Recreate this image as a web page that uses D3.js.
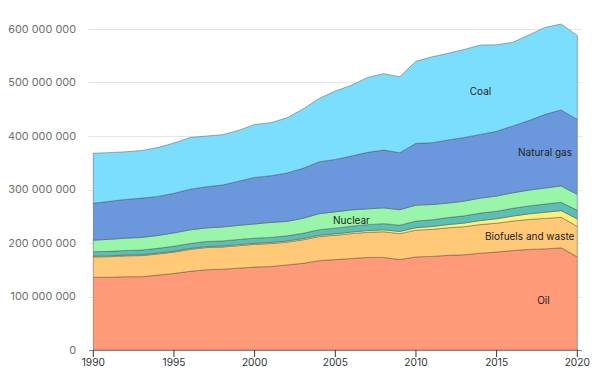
<!DOCTYPE html>
<html>
<head>
<meta charset="utf-8">
<script src="https://cdn.jsdelivr.net/npm/d3@7"></script>
<style>
  html, body { margin: 0; padding: 0; background: #fff; }
  svg { display: block; font-family: Inter, "Noto Sans", sans-serif; }
</style>
</head>
<body>
<svg id="chart" width="600" height="389"></svg>
<script>
const years = d3.range(1990, 2021);
const seriesNames = ["Oil", "Biofuels and waste", "Wind, solar, etc.", "Hydro", "Nuclear", "Natural gas", "Coal"];
const oil      = [136,136,137,137,140,143,147,150,151,153,155,156,159,162,167,169,171,173,173,169,174,175,177,178,181,183,186,188,189,191,174];
const biofuels = [38,38.5,39,39.5,39.5,40,41,41.5,41.5,42,42.5,43,42.5,44,45,45.5,46.5,47,48,48.5,50,50.5,51.5,52.5,53.5,54,55,56,57,57,57];
const windSolar= [1.5,1.5,1.6,1.6,1.7,1.7,1.8,1.8,1.9,2,2,2.1,2.2,2.3,2.5,2.7,2.9,3.2,3.6,4,4.6,5.3,6,6.8,7.5,8.3,9.3,10.5,11.5,12.5,14];
const hydro    = [8.2,8.4,8.4,8.8,8.9,9.2,9.3,9.4,9.5,9.5,9.6,9.4,9.7,9.8,10.3,10.6,11,11.1,11.6,11.7,12.4,12.6,13.1,13.5,14,14,14.5,14.8,15.3,15.6,16];
const nuclear  = [21.5,22.5,23,23.5,24,25,25.5,25.5,26,26.5,26.5,28,27,28,30,30.5,30.5,29.5,29.5,29,29.8,28.5,27,27.5,28,28.5,29,29.5,30,30.5,30];
const gas      = [69,71,72.5,73.5,73,74,76,77,78.5,82.5,87,87.3,90.5,93.5,97,98,100.7,105.7,108,106.6,115.5,115.6,118,119,119,121,125,130,137.7,142,140];
const coal     = [93.5,91,89,89,91.4,94,96.6,94.7,94,95,99,99,103,111,118.4,127.6,132.4,140,142.7,142,153.3,160.5,162,164.5,167,161.7,156.3,160,162.5,160.7,157];
const seriesValues = [oil, biofuels, windSolar, hydro, nuclear, gas, coal];
const colors = ["#ff9977", "#ffc977", "#fff07a", "#5cbfb6", "#98f5a9", "#6b97dc", "#7cdeff"];
const yTicks = [0, 100, 200, 300, 400, 500, 600];
const xTicks = [1990, 1995, 2000, 2005, 2010, 2015, 2020];
const labels = [
  {name: "Coal", year: 2014.0, value: 484},
  {name: "Natural gas", year: 2018.0, value: 369},
  {name: "Nuclear", year: 2006.0, value: 242},
  {name: "Biofuels and waste", year: 2017.05, value: 213},
  {name: "Oil", year: 2017.9, value: 92}
];

const rows = years.map((y, i) => {
  const r = {year: y};
  seriesNames.forEach((n, k) => r[n] = seriesValues[k][i] * 1e6);
  return r;
});

const svg = d3.select("#chart");
const x = d3.scaleLinear().domain([1990, 2020]).range([93.3, 577.3]);
const y = d3.scaleLinear().domain([0, 600e6]).range([350, 29]);

// gridlines
svg.append("g").selectAll("line").data(yTicks.slice(1)).join("line")
  .attr("x1", 88.5).attr("x2", 582)
  .attr("y1", d => Math.round(y(d * 1e6)) + 0.5).attr("y2", d => Math.round(y(d * 1e6)) + 0.5)
  .attr("stroke", "#e6e6e6").attr("stroke-width", 1);

const fmt = v => d3.format(",")(v).replace(/,/g, " ");
svg.append("g").selectAll("text").data(yTicks).join("text")
  .attr("x", 76).attr("y", d => y(d * 1e6)).attr("dy", "0.35em")
  .attr("text-anchor", "end").attr("fill", "#6e6e6e").attr("font-size", 10.9)
  .text(d => fmt(d * 1e6));

const stack = d3.stack().keys(seriesNames);
const layers = stack(rows);
const area = d3.area().x(d => x(d.data.year)).y0(d => y(d[0])).y1(d => y(d[1]));
svg.append("g").selectAll("path").data(layers).join("path")
  .attr("d", area)
  .attr("fill", (d, i) => colors[i])
  .attr("stroke", "rgba(70,70,70,0.55)").attr("stroke-width", 0.8);

// x axis
const xAxis = svg.append("g").attr("transform", "translate(0,350)");
xAxis.append("line").attr("x1", 89).attr("x2", 582).attr("y1", 0.5).attr("y2", 0.5)
  .attr("stroke", "#888").attr("stroke-width", 1);
const xt = xAxis.selectAll("g.tick").data(xTicks).join("g").attr("class", "tick")
  .attr("transform", d => `translate(${x(d)},0)`);
xt.append("line").attr("y1", 0).attr("y2", 7).attr("stroke", "#333").attr("stroke-width", 1);
xt.append("text").attr("y", 8.5).attr("dy", "0.71em").attr("text-anchor", "middle")
  .attr("fill", "#333").attr("font-size", 10.2).text(d => d);

// series labels
svg.append("g").selectAll("text").data(labels).join("text")
  .attr("x", d => x(d.year)).attr("y", d => y(d.value * 1e6)).attr("dy", "0.35em")
  .attr("text-anchor", "middle").attr("fill", "#222").attr("font-size", 10)
  .text(d => d.name);
</script>
</body>
</html>
